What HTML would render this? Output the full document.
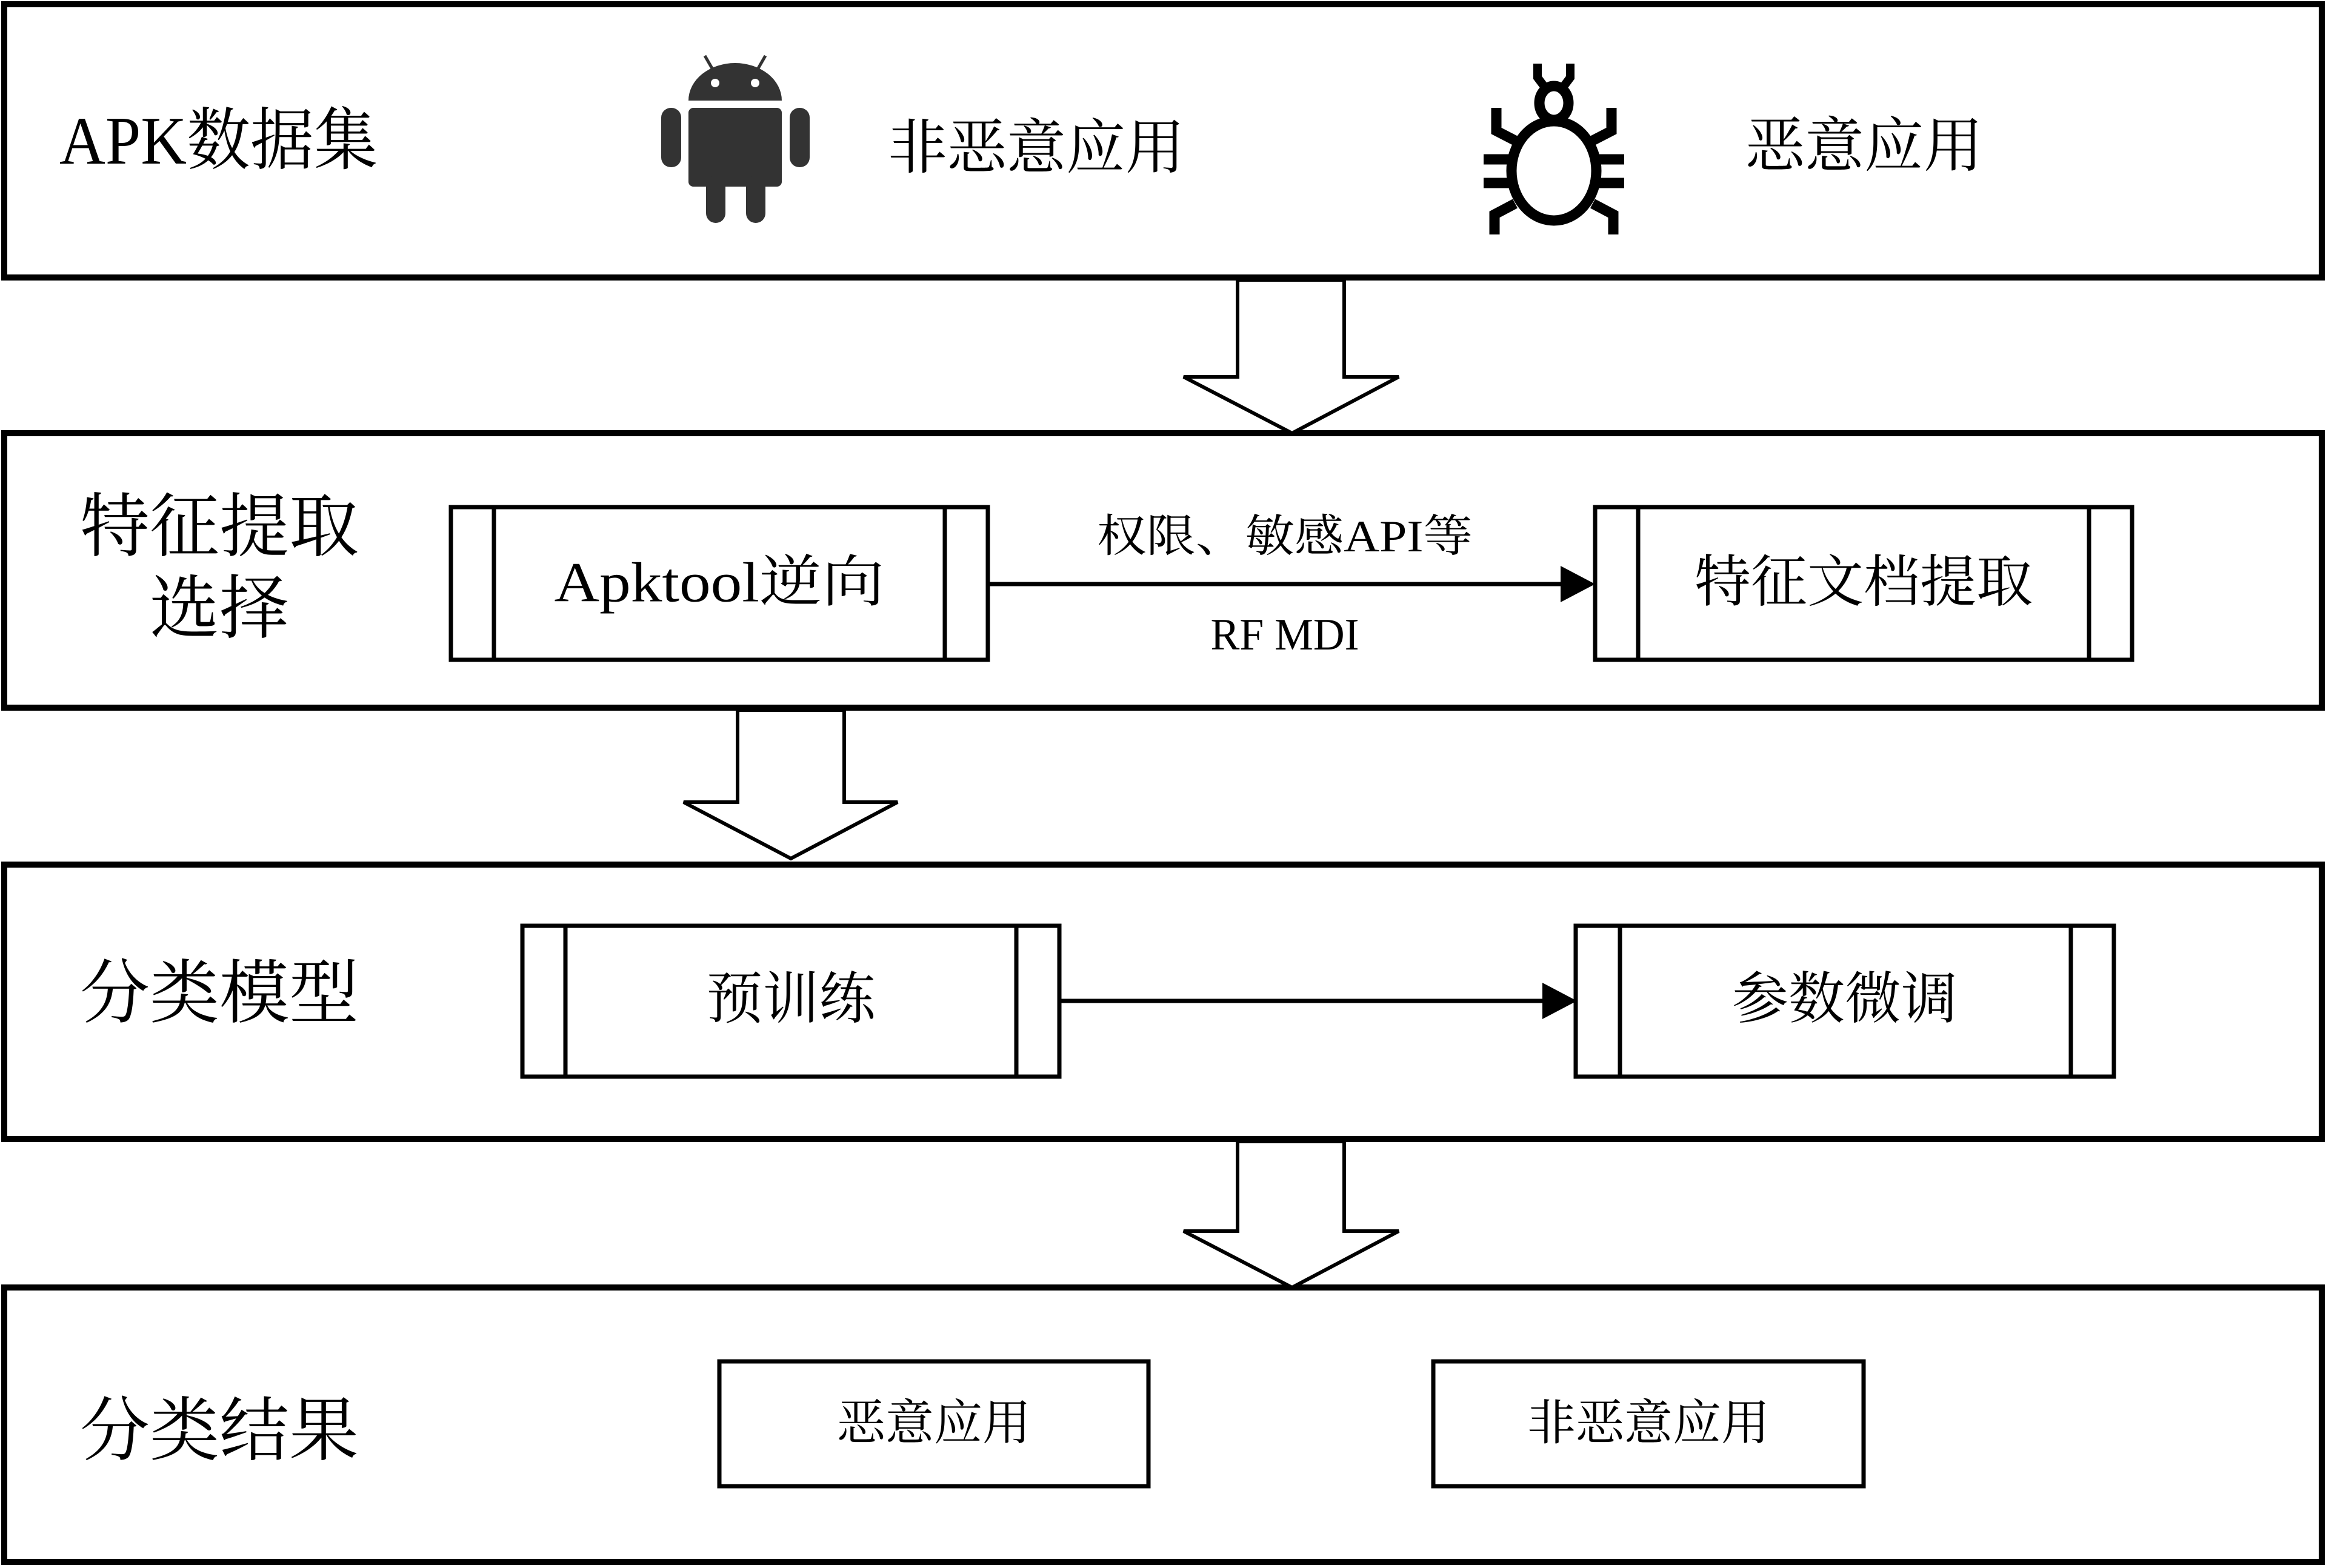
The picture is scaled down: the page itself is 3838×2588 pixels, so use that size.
<!DOCTYPE html>
<html><head><meta charset="utf-8"><style>
html,body{margin:0;padding:0;background:#fff;}
svg{display:block;}
text{font-family:"Liberation Serif","Noto Serif CJK SC",serif;fill:#000;}
</style></head><body>
<svg width="3838" height="2588" viewBox="0 0 3838 2588" xmlns="http://www.w3.org/2000/svg">
<g fill="none" stroke="#000" stroke-width="10">
<rect x="7" y="7" width="3824" height="451"/>
<rect x="7" y="715" width="3824" height="453"/>
<rect x="7" y="1427" width="3824" height="453"/>
<rect x="7" y="2125" width="3824" height="453"/>
</g>
<g fill="#fff" stroke="#000" stroke-width="6" stroke-linejoin="miter">
<polygon points="2042,462 2218,462 2218,622 2308,622 2132,715 1953,622 2042,622"/>
<polygon points="1217,1172 1393,1172 1393,1324 1481,1324 1305,1417 1128,1324 1217,1324"/>
<polygon points="2042,1884 2218,1884 2218,2032 2308,2032 2132,2125 1953,2032 2042,2032"/>
</g>
<g fill="none" stroke="#000" stroke-width="7">
<rect x="744" y="837" width="886" height="252"/>
<line x1="815" y1="837" x2="815" y2="1089"/><line x1="1559" y1="837" x2="1559" y2="1089"/>
<rect x="2632" y="837" width="886" height="252"/>
<line x1="2703" y1="837" x2="2703" y2="1089"/><line x1="3447" y1="837" x2="3447" y2="1089"/>
<rect x="862" y="1528" width="886" height="249"/>
<line x1="933" y1="1528" x2="933" y2="1777"/><line x1="1677" y1="1528" x2="1677" y2="1777"/>
<rect x="2600" y="1528" width="888" height="249"/>
<line x1="2673" y1="1528" x2="2673" y2="1777"/><line x1="3417" y1="1528" x2="3417" y2="1777"/>
<rect x="1187" y="2247" width="708" height="206"/>
<rect x="2365" y="2247" width="710" height="206"/>
<line x1="1630" y1="964" x2="2580" y2="964"/>
<line x1="1748" y1="1652" x2="2550" y2="1652"/>
</g>
<polygon points="2575,934 2632,964 2575,994" fill="#000"/>
<polygon points="2545,1622 2602,1652 2545,1682" fill="#000"/>
<!-- android -->
<g fill="#333">
<path d="M1136,166 A77,62 0 0 1 1290,166 Z"/>
<rect x="1136" y="178" width="154" height="130" rx="8"/>
<rect x="1091" y="178" width="33" height="98" rx="16"/>
<rect x="1303" y="178" width="33" height="98" rx="16"/>
<rect x="1165" y="290" width="32" height="78" rx="16"/>
<rect x="1231" y="290" width="32" height="78" rx="16"/>
<line x1="1163" y1="92" x2="1178" y2="118" stroke="#333" stroke-width="5"/>
<line x1="1263" y1="92" x2="1248" y2="118" stroke="#333" stroke-width="5"/>
</g>
<circle cx="1180" cy="137" r="7" fill="#fff"/><circle cx="1246" cy="137" r="7" fill="#fff"/>
<!-- bug -->
<g fill="none" stroke="#000" stroke-width="17">
<ellipse cx="2564" cy="282" rx="70" ry="82"/>
<ellipse cx="2564" cy="170" rx="24" ry="28"/>
<polyline points="2537,105 2537,128 2552,148" stroke-width="14"/><polyline points="2591,105 2591,128 2576,148" stroke-width="14"/>
<polyline points="2500,232 2469,216 2469,178"/><polyline points="2628,232 2659,216 2659,178"/>
<line x1="2448" y1="263" x2="2494" y2="263"/><line x1="2634" y1="263" x2="2680" y2="263"/>
<line x1="2448" y1="302" x2="2494" y2="302"/><line x1="2634" y1="302" x2="2680" y2="302"/>
<polyline points="2500,336 2466,354 2466,387"/><polyline points="2628,336 2662,354 2662,387"/>
</g>
<g dominant-baseline="central">
<text x="98" y="233" font-size="112" textLength="525" lengthAdjust="spacingAndGlyphs">APK数据集</text>
<text x="1465" y="245" font-size="98">非恶意应用</text>
<text x="2880" y="242" font-size="98">恶意应用</text>
<text x="362" y="870" font-size="115" text-anchor="middle">特征提取</text>
<text x="362" y="1005" font-size="115" text-anchor="middle">选择</text>
<text x="1187" y="962" font-size="93" text-anchor="middle" textLength="545" lengthAdjust="spacingAndGlyphs">Apktool逆向</text>
<text x="3075" y="962" font-size="93" text-anchor="middle">特征文档提取</text>
<text x="2120" y="886" font-size="74" text-anchor="middle" textLength="620" lengthAdjust="spacingAndGlyphs">权限、敏感API等</text>
<text x="2120" y="1048" font-size="74" text-anchor="middle" textLength="245" lengthAdjust="spacingAndGlyphs">RF MDI</text>
<text x="362" y="1640" font-size="115" text-anchor="middle">分类模型</text>
<text x="1305" y="1650" font-size="93" text-anchor="middle">预训练</text>
<text x="3044" y="1650" font-size="93" text-anchor="middle">参数微调</text>
<text x="362" y="2362" font-size="115" text-anchor="middle">分类结果</text>
<text x="1541" y="2350" font-size="80" text-anchor="middle">恶意应用</text>
<text x="2720" y="2350" font-size="80" text-anchor="middle">非恶意应用</text>
</g>
</svg>
</body></html>
